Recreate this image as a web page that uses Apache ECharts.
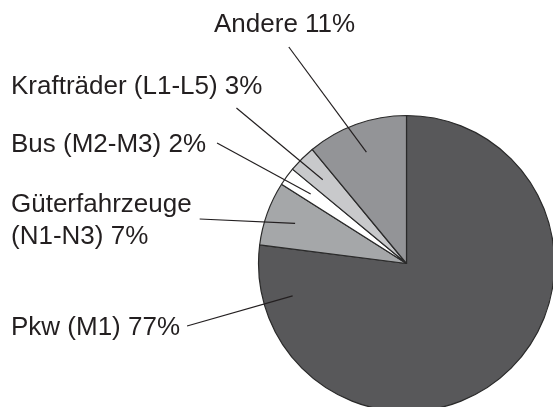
<!DOCTYPE html>
<html><head><meta charset="utf-8">
<script src="https://cdn.jsdelivr.net/npm/echarts@6/dist/echarts.min.js"></script>
<style>html,body{margin:0;padding:0;background:#fff}#c{width:553px;height:407px}</style>
</head><body><div id="c"></div><script>
const categories = ['Pkw (M1)', 'Güterfahrzeuge\n(N1-N3)', 'Bus (M2-M3)', 'Krafträder (L1-L5)', 'Andere'];
const shares = [77, 7, 2, 3, 11];
const sliceColors = ['#58585a', '#a5a7a9', '#ffffff', '#c8c9cb', '#939497'];

const CX = 406.5, CY = 263.5, R = 148;
// label placement (left x, middle y) and where the leader line meets the label rect
const labelPlace = [
  {x: 11,  y: 328,  fx: 1,    fy: 0.5, ox: 7,   oy: -2, aim: 'label'},
  {x: 11,  y: 221,  fx: 1,    fy: 0.5, ox: 8,   oy: -2},
  {x: 11,  y: 145,  fx: 1,    fy: 0.5, ox: 11,  oy: -2},
  {x: 11,  y: 86.5, fx: 1,    fy: 1,   ox: -26, oy: 5.5},
  {x: 214, y: 25,   fx: 0.53, fy: 1,   ox: 0,   oy: 6}
];

const total = shares.reduce((a, b) => a + b, 0);
const midAngles = [];
let acc = 0;
shares.forEach(v => { midAngles.push((acc + v / 2) / total * 2 * Math.PI); acc += v; });

const common = {
  type: 'pie',
  center: [CX, CY],
  radius: [0, R],
  startAngle: 90,
  clockwise: true,
  avoidLabelOverlap: false,
  silent: true
};

const chart = echarts.init(document.getElementById('c'), null, {renderer: 'canvas'});
chart.setOption({
  animation: false,
  series: [Object.assign({}, common, {
    z: 2,
    data: categories.map((n, i) => ({name: n, value: shares[i], itemStyle: {color: sliceColors[i]}})),
    itemStyle: {borderColor: '#2a2a2a', borderWidth: 1.2},
    label: {show: false},
    labelLine: {show: false}
  }), Object.assign({}, common, {
    z: 5,
    data: categories.map((n, i) => ({name: n, value: shares[i]})),
    itemStyle: {color: 'rgba(0,0,0,0)', borderWidth: 0},
    label: {
      show: true,
      position: 'outside',
      formatter: p => p.name + ' ' + p.value + '%',
      fontFamily: '"Liberation Sans", Arial, Helvetica, sans-serif',
      fontSize: 26,
      lineHeight: 32,
      color: '#231f20'
    },
    labelLine: {show: true, length: 10, length2: 10, lineStyle: {color: '#231f20', width: 1.2}},
    labelLayout: function (params) {
      const L = labelPlace[params.dataIndex];
      const w = params.labelRect.width, h = params.labelRect.height;
      const rx = L.x, ry = L.y - h / 2;
      const ex = rx + L.fx * w + L.ox, ey = ry + L.fy * h + L.oy;
      let ux, uy;
      if (L.aim === 'label') {
        const d = Math.hypot(ex - CX, ey - CY);
        ux = (ex - CX) / d; uy = (ey - CY) / d;
      } else {
        const a = midAngles[params.dataIndex];
        ux = Math.sin(a); uy = -Math.cos(a);
      }
      const sx = CX + 0.8 * R * ux, sy = CY + 0.8 * R * uy;
      return {
        x: L.x, y: L.y, align: 'left', verticalAlign: 'middle',
        labelLinePoints: [[sx, sy], [ex, ey]]
      };
    }
  })]
});
</script></body></html>
